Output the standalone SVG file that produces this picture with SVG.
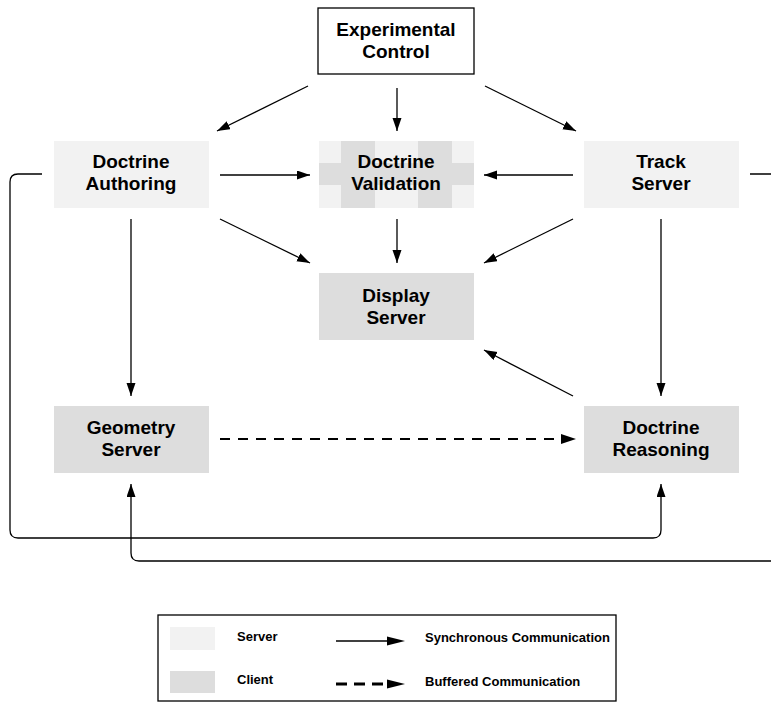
<svg xmlns="http://www.w3.org/2000/svg" width="771" height="704" viewBox="0 0 771 704">
<defs>
<marker id="ah" markerUnits="userSpaceOnUse" markerWidth="14" markerHeight="10" refX="13" refY="4.5" orient="auto">
<path d="M0,0 L13,4.5 L0,9 z" fill="#000"/>
</marker>
</defs>
<style>
.lt{fill:#f2f2f2}
.dk{fill:#dddddd}
.t{font-family:"Liberation Sans",Arial,sans-serif;font-weight:bold;font-size:19px;text-anchor:middle;fill:#000}
.lg{font-family:"Liberation Sans",Arial,sans-serif;font-weight:bold;font-size:13px;fill:#000}
.c{stroke:#000;stroke-width:1.3;fill:none}
.d{stroke:#000;stroke-width:2.2;fill:none;stroke-dasharray:10 8}
</style>
<rect width="771" height="704" fill="#fff"/>
<g id="connectors">
<line class="c" x1="308" y1="86" x2="217" y2="131" marker-end="url(#ah)"/>
<line class="c" x1="397" y1="88" x2="397" y2="131" marker-end="url(#ah)"/>
<line class="c" x1="485" y1="86" x2="576" y2="131" marker-end="url(#ah)"/>
<line class="c" x1="220" y1="175" x2="310" y2="175" marker-end="url(#ah)"/>
<line class="c" x1="573" y1="175" x2="484" y2="175" marker-end="url(#ah)"/>
<line class="c" x1="220" y1="219" x2="310" y2="263" marker-end="url(#ah)"/>
<line class="c" x1="397" y1="219" x2="397" y2="263" marker-end="url(#ah)"/>
<line class="c" x1="573" y1="219" x2="484" y2="263" marker-end="url(#ah)"/>
<line class="c" x1="573" y1="396" x2="484" y2="350" marker-end="url(#ah)"/>
<line class="c" x1="131" y1="219" x2="131" y2="396" marker-end="url(#ah)"/>
<line class="c" x1="661" y1="219" x2="661" y2="396" marker-end="url(#ah)"/>
<line class="d" x1="220" y1="439" x2="565" y2="439"/>
<path d="M561,434 L576,439 L561,444 z" fill="#000"/>
<path class="c" d="M42,174 H18 Q10,174 10,182 V530 Q10,538 18,538 H653 Q661,538 661,530 V484" marker-end="url(#ah)"/>
<path class="c" d="M750,174 H790 V561 H139 Q131,561 131,553 V484" marker-end="url(#ah)"/>
</g>
<g id="experimental-control">
<rect x="318" y="8" width="156" height="66" fill="#fff" stroke="#000" stroke-width="1.3"/>
<text class="t" x="396" y="36">Experimental</text>
<text class="t" x="396" y="58">Control</text>
</g>
<g id="doctrine-authoring">
<rect class="lt" x="54" y="141" width="155" height="67"/>
<text class="t" x="131" y="168">Doctrine</text>
<text class="t" x="131" y="190">Authoring</text>
</g>
<g id="doctrine-validation">
<rect class="lt" x="319" y="141" width="155" height="67"/>
<rect class="dk" x="341" y="141" width="34" height="67"/>
<rect class="dk" x="418" y="141" width="34" height="67"/>
<rect class="dk" x="319" y="163" width="155" height="22"/>
<text class="t" x="396" y="168">Doctrine</text>
<text class="t" x="396" y="190">Validation</text>
</g>
<g id="track-server">
<rect class="lt" x="584" y="141" width="155" height="67"/>
<text class="t" x="661" y="168">Track</text>
<text class="t" x="661" y="190">Server</text>
</g>
<g id="display-server">
<rect class="dk" x="319" y="273" width="155" height="67"/>
<text class="t" x="396" y="302">Display</text>
<text class="t" x="396" y="324">Server</text>
</g>
<g id="geometry-server">
<rect class="dk" x="54" y="406" width="155" height="67"/>
<text class="t" x="131" y="434">Geometry</text>
<text class="t" x="131" y="456">Server</text>
</g>
<g id="doctrine-reasoning">
<rect class="dk" x="584" y="406" width="155" height="67"/>
<text class="t" x="661" y="434">Doctrine</text>
<text class="t" x="661" y="456">Reasoning</text>
</g>
<g id="legend">
<rect x="158" y="615" width="458" height="86" fill="#fff" stroke="#000" stroke-width="1.3"/>
<rect class="lt" x="170" y="627" width="45" height="23"/>
<rect class="dk" x="170" y="671" width="45" height="22"/>
<text class="lg" x="237" y="641">Server</text>
<text class="lg" x="237" y="684">Client</text>
<line class="c" x1="336" y1="641" x2="390" y2="641"/>
<path d="M387,636.5 L405,641 L387,645.5 z" fill="#000"/>
<line x1="336" y1="684" x2="389" y2="684" stroke="#000" stroke-width="3" stroke-dasharray="11 7"/>
<path d="M387,679.5 L405,684 L387,688.5 z" fill="#000"/>
<text class="lg" x="425" y="642">Synchronous Communication</text>
<text class="lg" x="425" y="686">Buffered Communication</text>
</g>
</svg>
